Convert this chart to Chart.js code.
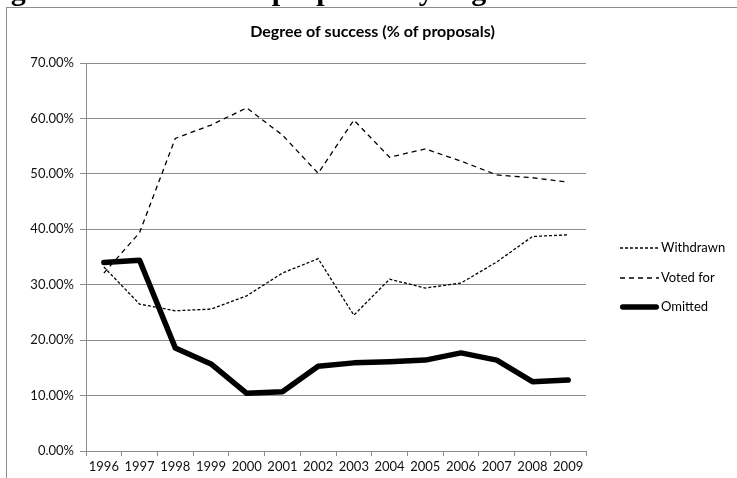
<!DOCTYPE html>
<html>
<head>
<meta charset="utf-8">
<script src="https://cdn.jsdelivr.net/npm/chart.js@4.4.1/dist/chart.umd.min.js"></script>
<style>
  html, body { margin: 0; padding: 0; background: #fff; overflow: hidden; }
  #wrap { position: relative; width: 737px; height: 478px; overflow: hidden; }
  #heading {
    position: absolute; left: -16px; top: -25px; white-space: nowrap;
    font-family: "Liberation Serif", "DejaVu Serif", serif; font-weight: bold;
    font-size: 30px; line-height: 30px; color: #000; z-index: 2;
  }
  canvas { position: absolute; left: 0; top: 0; }
</style>
</head>
<body>
<div id="wrap">
  <div id="heading">Figure 3: Incidence of proposals by degree of success</div>
  <canvas id="chart" width="737" height="478"></canvas>
</div>
<script>
// Share of proposals per year (%)
const years = ['1996','1997','1998','1999','2000','2001','2002','2003','2004','2005','2006','2007','2008','2009'];
const withdrawn = [33.2, 26.5, 25.3, 25.6, 28.0, 32.1, 34.7, 24.5, 31.0, 29.4, 30.3, 34.1, 38.7, 39.0];
const votedFor  = [32.1, 39.4, 56.4, 58.8, 61.9, 57.0, 50.1, 59.7, 53.0, 54.5, 52.3, 49.8, 49.3, 48.5];
const omitted   = [34.0, 34.4, 18.6, 15.7, 10.4, 10.7, 15.3, 15.9, 16.1, 16.4, 17.7, 16.4, 12.5, 12.8];
const yTicks = [0, 10, 20, 30, 40, 50, 60, 70];

const chartTitle = 'Degree of success (% of proposals)';
const FONT = 'Lato, "Open Sans", sans-serif';
const GRID = '#8c8c8c';

// Frame, title and legend drawn around the plot
const decorations = {
  id: 'decorations',
  beforeDraw(chart) {
    const ctx = chart.ctx;
    ctx.save();
    ctx.fillStyle = '#fff';
    ctx.fillRect(0, 0, chart.width, chart.height);
    ctx.strokeStyle = GRID;
    ctx.lineWidth = 1;
    ctx.strokeRect(6.5, 7.5, 900, 600);
    ctx.restore();
  },
  afterDraw(chart) {
    const ctx = chart.ctx;
    ctx.save();
    ctx.fillStyle = '#000';
    ctx.font = 'bold 16px ' + FONT;
    ctx.textAlign = 'center';
    ctx.textBaseline = 'alphabetic';
    ctx.fillText(chartTitle, 372.5, 37);

    const rows = [248, 278, 307];
    ctx.font = '13px ' + FONT;
    ctx.textAlign = 'left';
    ctx.textBaseline = 'middle';
    chart.data.datasets.forEach((ds, i) => {
      const y = rows[i];
      ctx.save();
      ctx.strokeStyle = ds.borderColor;
      ctx.lineWidth = ds.borderWidth;
      ctx.lineCap = ds.borderCapStyle || 'butt';
      ctx.setLineDash(ds.borderDash || []);
      ctx.beginPath();
      const inset = ds.borderCapStyle === 'round' ? ds.borderWidth / 2 : 0;
      ctx.moveTo(620 + inset, y);
      ctx.lineTo(659 - inset, y);
      ctx.stroke();
      ctx.restore();
      ctx.fillText(ds.label, 661, y);
    });
    ctx.restore();
  }
};

new Chart(document.getElementById('chart'), {
  type: 'line',
  data: {
    labels: years,
    datasets: [
      { label: 'Withdrawn', data: withdrawn, borderColor: '#000', borderWidth: 1.3,
        borderDash: [3, 2], pointRadius: 0, tension: 0, fill: false },
      { label: 'Voted for', data: votedFor, borderColor: '#000', borderWidth: 1.3,
        borderDash: [5, 4], pointRadius: 0, tension: 0, fill: false },
      { label: 'Omitted', data: omitted, borderColor: '#000', borderWidth: 5.5,
        borderCapStyle: 'round', borderJoinStyle: 'round', pointRadius: 0, tension: 0, fill: false }
    ]
  },
  options: {
    responsive: false,
    animation: false,
    events: [],
    layout: { padding: { left: 0, right: 151, top: 63, bottom: 0 } },
    plugins: { legend: { display: false }, title: { display: false }, tooltip: { enabled: false } },
    scales: {
      x: {
        offset: true,
        grid: { offset: true, drawOnChartArea: false, drawTicks: true, tickLength: 5, color: GRID },
        border: { color: GRID, width: 1 },
        ticks: { color: '#111', font: { family: FONT, size: 13 }, maxRotation: 0, autoSkip: false, padding: 3 },
        afterFit(scale) { scale.height = 27; }
      },
      y: {
        min: 0, max: 70,
        afterBuildTicks(scale) { scale.ticks = yTicks.map(v => ({ value: v })); },
        grid: { color: GRID, tickLength: 6, drawTicks: true },
        border: { color: GRID, width: 1 },
        ticks: { color: '#111', font: { family: FONT, size: 13 }, padding: 6,
                 callback: v => v.toFixed(2) + '%' },
        afterFit(scale) { scale.width = 86; }
      }
    }
  },
  plugins: [decorations]
});
</script>
</body>
</html>
